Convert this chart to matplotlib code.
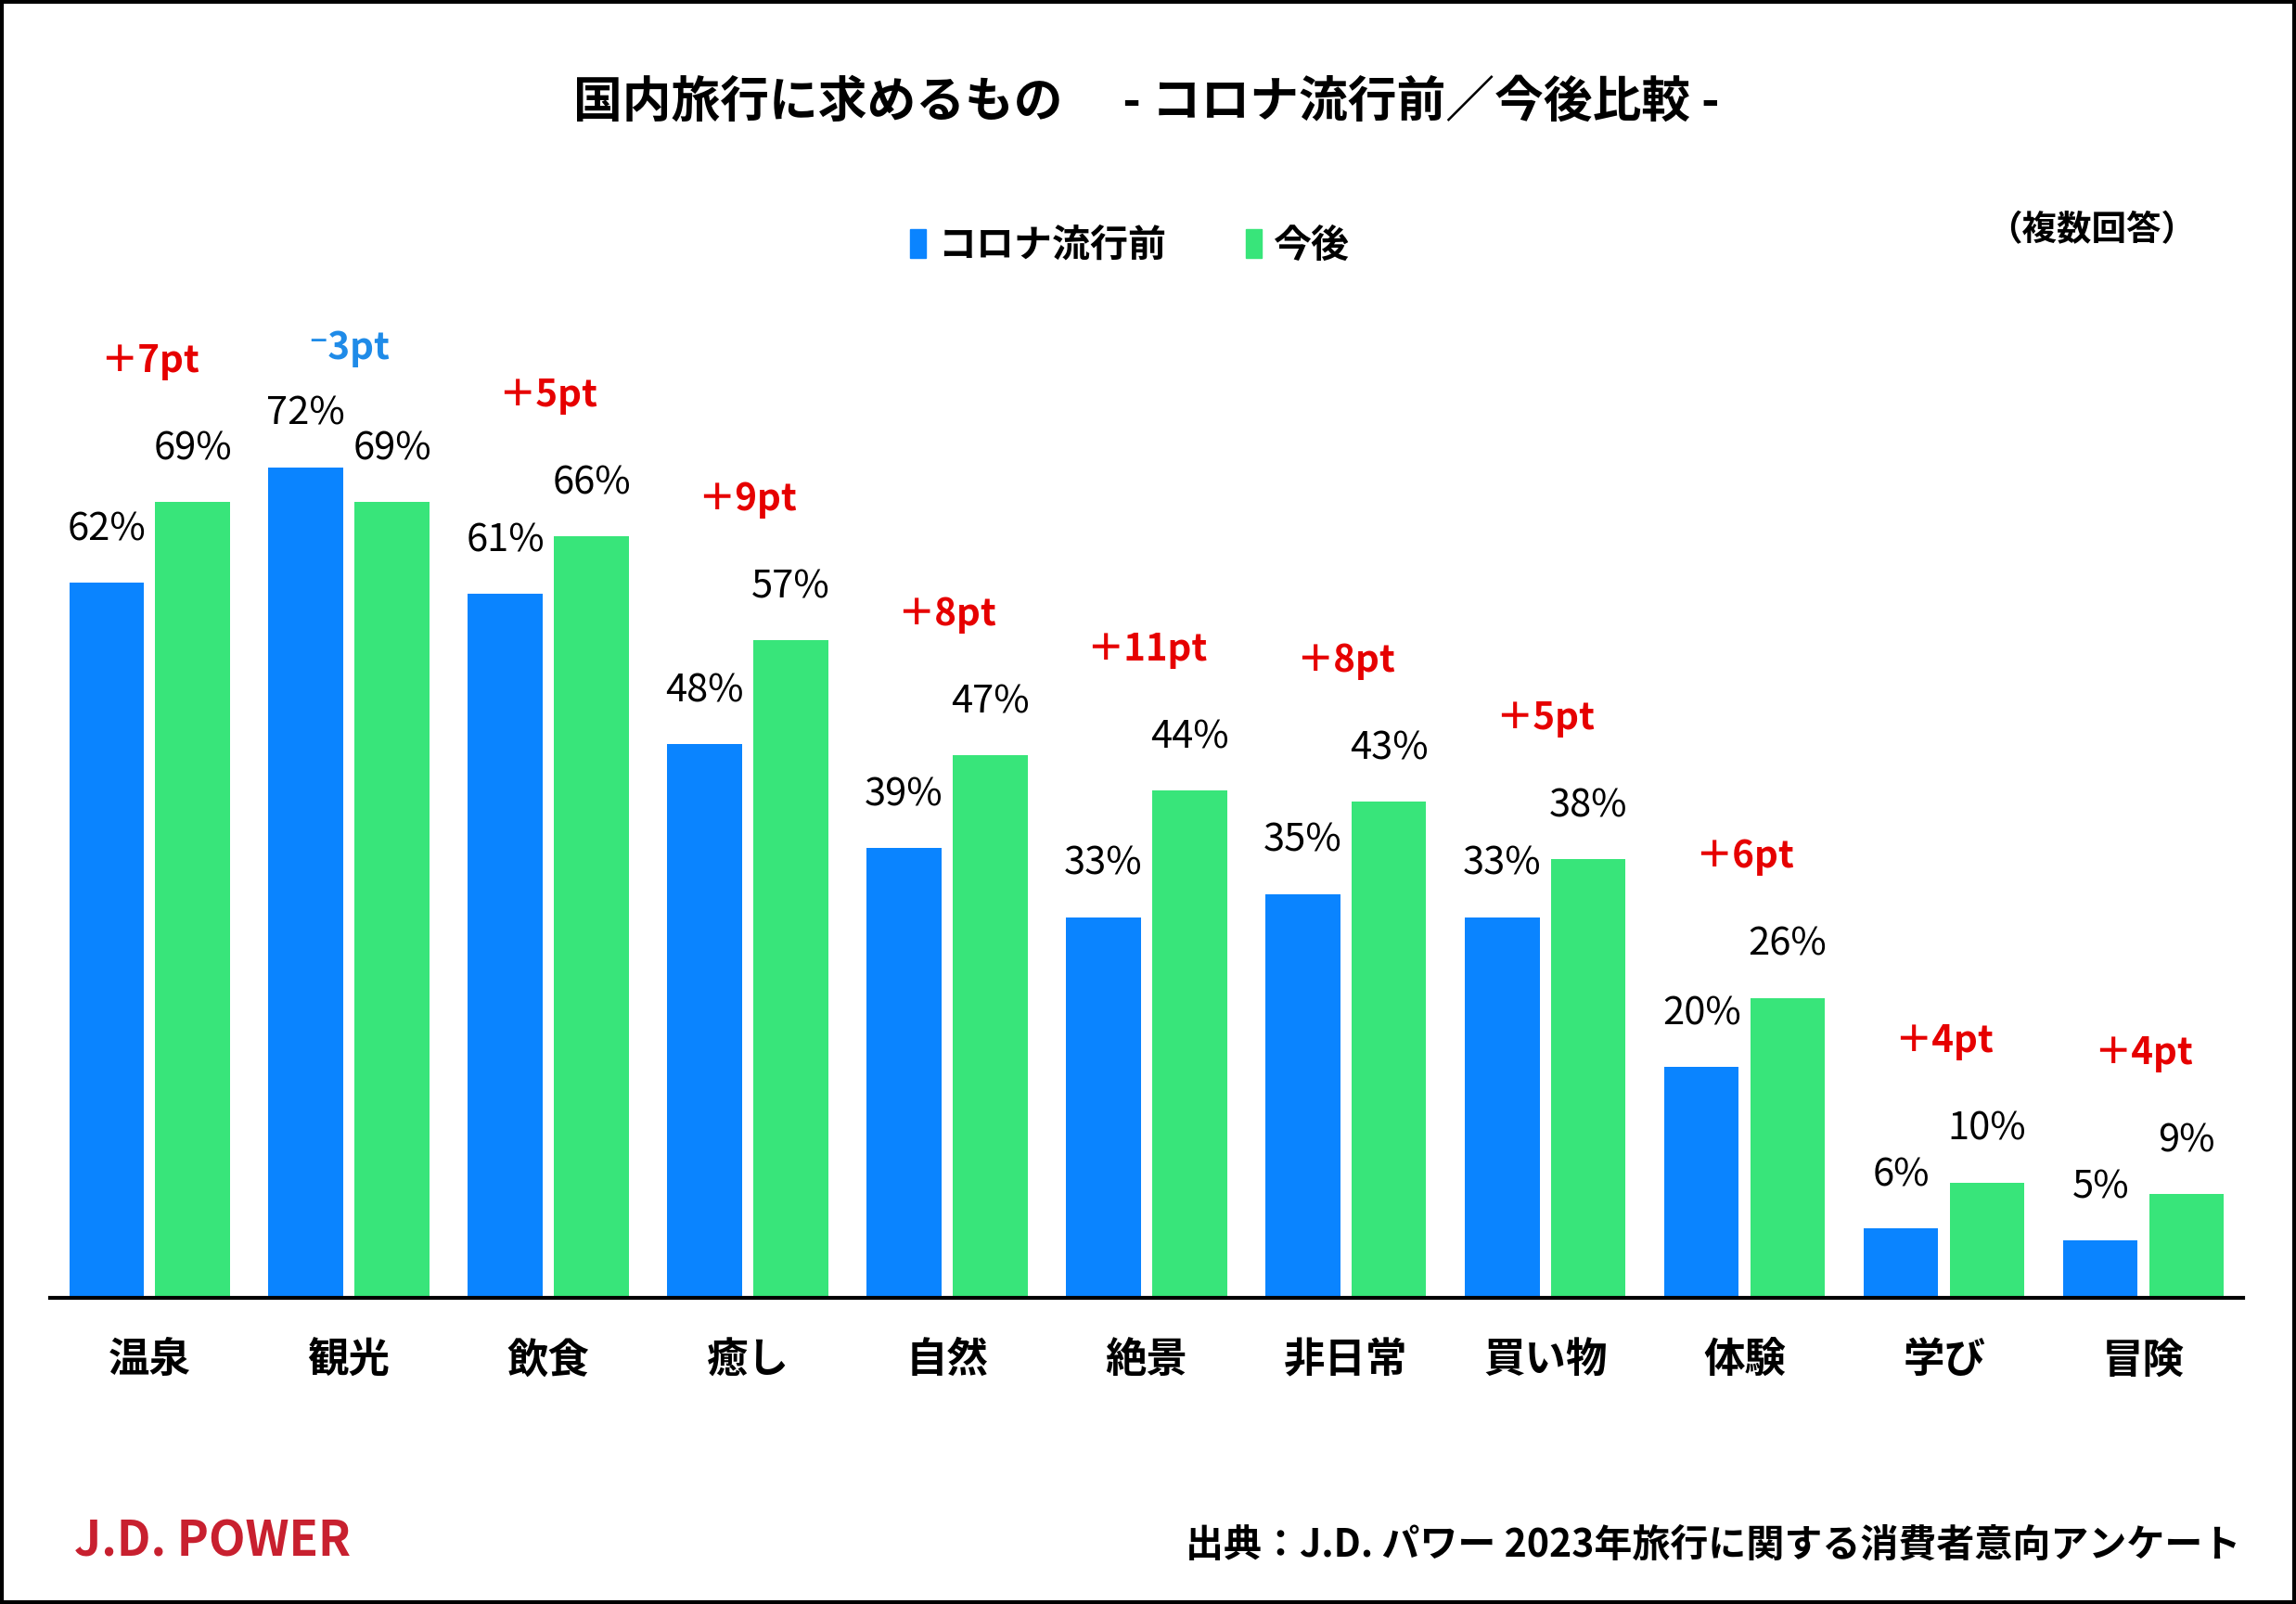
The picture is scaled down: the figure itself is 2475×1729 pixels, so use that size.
import numpy as np
import matplotlib
matplotlib.use('Agg')
import matplotlib.pyplot as plt
from matplotlib.patches import Patch, Rectangle

plt.rcParams['font.family'] = ['Noto Sans CJK JP', 'DejaVu Sans']

# データ
categories = ['温泉', '観光', '飲食', '癒し', '自然', '絶景', '非日常', '買い物', '体験', '学び', '冒険']
before = [62, 72, 61, 48, 39, 33, 35, 33, 20, 6, 5]   # コロナ流行前
after = [69, 69, 66, 57, 47, 44, 43, 38, 26, 10, 9]    # 今後
series_names = ['コロナ流行前', '今後']

blue = '#0a84ff'
green = '#38e57a'
red_txt = '#e60000'
blue_txt = '#1f8be8'

fig = plt.figure(figsize=(24.75, 17.29), dpi=100)
ax = fig.add_axes([0.0217, 0.1909, 0.9553, 0.6265])

x = np.arange(len(categories))
w = 0.374
off = 0.216
ax.bar(x - off, before, w, color=blue)
ax.bar(x + off, after, w, color=green)

ax.set_xlim(-0.5, 10.5)
ax.set_ylim(0, 87.1)

for i in range(len(categories)):
    ax.text(x[i] - off, before[i] + 4.6, f'{before[i]}%', ha='center', va='center', fontsize=30)
    ax.text(x[i] + off, after[i] + 4.6, f'{after[i]}%', ha='center', va='center', fontsize=30)
    d = after[i] - before[i]
    top = max(before[i], after[i])
    if d >= 0:
        lab, col, dy = f'＋{d}pt', red_txt, 12.2
    else:
        lab, col, dy = f'⁻{abs(d)}pt', blue_txt, 10.3
    ax.text(x[i], top + dy, lab, ha='center', va='center', fontsize=29,
            fontweight='bold', color=col)

ax.set_xticks(x)
ax.set_xticklabels(categories, fontsize=32, fontweight='bold')
ax.tick_params(axis='x', length=0, pad=32)
ax.set_yticks([])
for s in ['top', 'right', 'left']:
    ax.spines[s].set_visible(False)
ax.spines['bottom'].set_linewidth(3)

# タイトル・凡例
fig.text(0.4994, 0.936, '国内旅行に求めるもの　 - コロナ流行前／今後比較 -',
         ha='center', va='center', fontsize=38, fontweight='bold')
handles = [Patch(color=blue), Patch(color=green)]
leg = fig.legend(handles, series_names, loc='center', bbox_to_anchor=(0.492, 0.847),
                 ncol=2, frameon=False, handlelength=0.42, handleheight=0.8,
                 handletextpad=0.3, columnspacing=2.1, prop={'size': 29.5, 'weight': 'bold'})
fig.text(0.911, 0.857, '（複数回答）', ha='center', va='center', fontsize=27, fontweight='bold')

# フッター
fig.text(0.0325, 0.039, 'J.D. POWER', ha='left', va='center', fontsize=37,
         fontweight='bold', color='#c8202f')
fig.text(0.9758, 0.0365, '出典：J.D. パワー 2023年旅行に関する消費者意向アンケート',
         ha='right', va='center', fontsize=29.5, fontweight='bold')

# 枠線
fig.patches.append(Rectangle((0.001, 0.001), 0.998, 0.998, transform=fig.transFigure,
                             fill=False, edgecolor='black', linewidth=3))

fig.savefig('out.png', dpi=100)
